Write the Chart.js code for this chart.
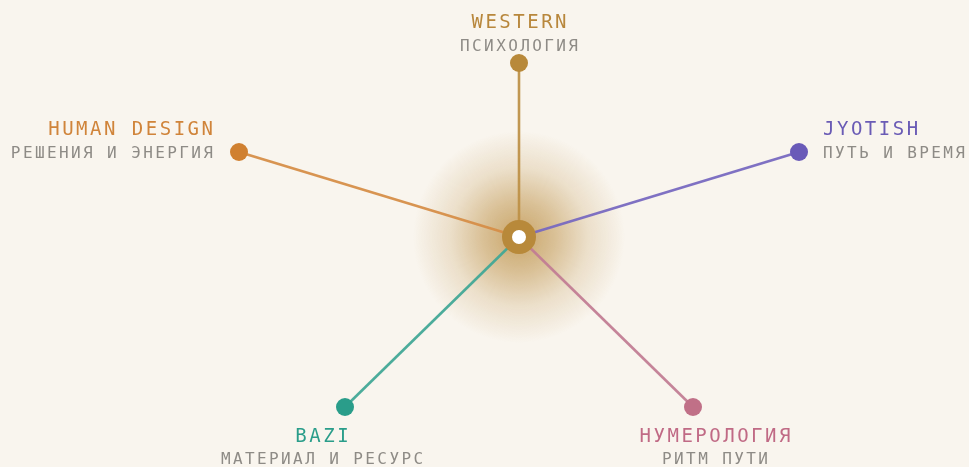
<!DOCTYPE html>
<html>
<head>
<meta charset="utf-8">
<script src="https://cdn.jsdelivr.net/npm/chart.js@4/dist/chart.umd.min.js"></script>
<style>
  html, body { margin: 0; padding: 0; background: #f9f5ee; }
  #wrap { width: 969px; height: 467px; }
</style>
</head>
<body>
<div id="wrap"><canvas id="c" width="969" height="467"></canvas></div>
<script>
// ---- data ----
const categories = ['WESTERN', 'JYOTISH', 'НУМЕРОЛОГИЯ', 'BAZI', 'HUMAN DESIGN'];
const subtitles  = ['ПСИХОЛОГИЯ', 'ПУТЬ И ВРЕМЯ', 'РИТМ ПУТИ', 'МАТЕРИАЛ И РЕСУРС', 'РЕШЕНИЯ И ЭНЕРГИЯ'];
const xValues    = [0, 280, 174, -174, -280];
const yValues    = [174, 85, -170, -170, 85];
const hubX = 0;
const hubY = 0;

// ---- styles ----
const dotColors   = ['#b8893a', '#6a5ab8', '#c07087', '#2a9d8a', '#d08030'];
const lineColors  = ['rgba(190,145,72,0.95)', 'rgba(120,105,192,0.95)', 'rgba(194,125,148,0.95)', 'rgba(66,168,150,0.95)', 'rgba(214,142,72,0.95)'];
const titleColors = ['#b8873c', '#6a5bb5', '#c06a85', '#2a9d8a', '#d0843a'];
const placements  = ['top', 'right', 'bottomRight', 'bottomLeft', 'left'];
const subColor = '#8e8b86';
const FONT = '"DejaVu Sans Mono", monospace';

const place = {
  top:         { dx: 0,   t: -35, s: -12, align: 'center' },
  right:       { dx: 24,  t: -17, s: 6,   align: 'left' },
  left:        { dx: -26, t: -17, s: 6,   align: 'right' },
  bottomLeft:  { dx: -23, t: 35,  s: 57,  align: 'center' },
  bottomRight: { dx: 22,  t: 35,  s: 57,  align: 'center' }
};

const datasets = [{
  label: 'hub',
  data: [{ x: hubX, y: hubY }],
  pointRadius: 12,
  pointBorderWidth: 10,
  pointBackgroundColor: '#ffffff',
  pointBorderColor: '#b8893a',
  showLine: false,
  order: 0
}];
categories.forEach((c, i) => {
  datasets.push({
    label: c,
    data: [{ x: hubX, y: hubY }, { x: xValues[i], y: yValues[i] }],
    showLine: true,
    borderColor: lineColors[i],
    borderWidth: 2.6,
    pointRadius: [0, 9],
    pointBorderWidth: 0,
    pointBackgroundColor: dotColors[i],
    order: 1
  });
});

const glowPlugin = {
  id: 'glow',
  beforeDatasetsDraw(chart) {
    const ctx = chart.ctx;
    const cx = chart.scales.x.getPixelForValue(hubX);
    const cy = chart.scales.y.getPixelForValue(hubY);
    const r = 106;
    const g = ctx.createRadialGradient(cx, cy, 0, cx, cy, r);
    g.addColorStop(0, 'rgba(184,137,58,0.75)');
    g.addColorStop(0.35, 'rgba(184,137,58,0.48)');
    g.addColorStop(0.65, 'rgba(184,137,58,0.2)');
    g.addColorStop(1, 'rgba(184,137,58,0)');
    ctx.save();
    ctx.fillStyle = g;
    ctx.beginPath();
    ctx.arc(cx, cy, r, 0, Math.PI * 2);
    ctx.fill();
    ctx.restore();
  }
};

function drawSpaced(ctx, text, x, y, align, spacing) {
  ctx.letterSpacing = spacing + 'px';
  ctx.textAlign = align;
  let xx = x;
  if (align === 'center') xx += spacing / 2;
  if (align === 'right') xx += spacing;
  ctx.fillText(text, xx, y);
}

const labelPlugin = {
  id: 'labels',
  afterDatasetsDraw(chart) {
    const ctx = chart.ctx;
    ctx.save();
    ctx.textBaseline = 'alphabetic';
    categories.forEach((c, i) => {
      const el = chart.getDatasetMeta(i + 1).data[1];
      const p = place[placements[i]];
      const x = el.x + p.dx;
      ctx.font = '19px ' + FONT;
      ctx.fillStyle = titleColors[i];
      drawSpaced(ctx, c, x, el.y + p.t, p.align, 2.5);
      ctx.font = '16px ' + FONT;
      ctx.fillStyle = subColor;
      drawSpaced(ctx, subtitles[i], x, el.y + p.s, p.align, 2.4);
    });
    ctx.restore();
  }
};

new Chart(document.getElementById('c'), {
  type: 'scatter',
  data: { datasets },
  options: {
    responsive: false,
    animation: false,
    layout: { padding: 0, autoPadding: false },
    plugins: { legend: { display: false }, tooltip: { enabled: false } },
    scales: {
      x: { type: 'linear', min: -519, max: 450, display: false },
      y: { type: 'linear', min: -230, max: 237, display: false }
    }
  },
  plugins: [glowPlugin, labelPlugin]
});
</script>
</body>
</html>
